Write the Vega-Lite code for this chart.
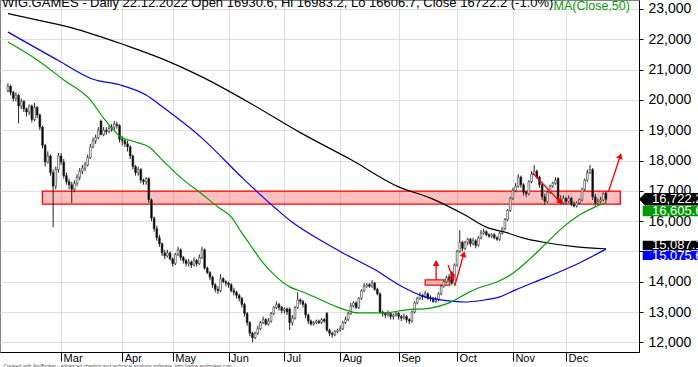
{
"$schema":"https://vega.github.io/schema/vega-lite/v6.json",
"width":639,"height":352,
"autosize":{"type":"none"},
"padding":{"left":0,"top":0,"right":59,"bottom":15},
"background":"white",
"config":{"view":{"stroke":"#808080","strokeWidth":1},"font":"Liberation Sans",
 "axisY":{"labelOverlap":false,"labelFlush":false,"labelFontSize":14,"labelColor":"#000000","labelPadding":5,"tickSize":4,"tickColor":"#000000","domainColor":"#000000","grid":true,"gridColor":"#dedede","labelAlign":"left","labelBaseline":"middle","format":",d"},
 "axisX":{"labelOverlap":false,"labelFlush":false,"labelAlign":"left","labelBaseline":"alphabetic","labelPadding":0,"labelOffset":2,"tickSize":9,"labelFontSize":11,"labelColor":"#000000","grid":true,"gridColor":"#dedede","domainColor":"#000000","tickColor":"#000000"}},
"title":{"text":"WIG.GAMES - Daily 22.12.2022 Open 16930.6, Hi 16983.2, Lo 16606.7, Close 16722.2 (-1.0%)","anchor":"start","frame":"group","fontSize":13,"fontWeight":"normal","color":"#000000","baseline":"top","offset":-11,"dx":2},
"datasets":{
"px":[
{"d":"2022-02-01","o":20300,"h":20550,"l":20250,"c":20450,"m50":21910,"m100":22240,"m200":22850},
{"d":"2022-02-02","o":20450,"h":20500,"l":20150,"c":20250},
{"d":"2022-02-03","o":20250,"h":20300,"l":19950,"c":20050},
{"d":"2022-02-04","o":20050,"h":20250,"l":19950,"c":20150},
{"d":"2022-02-07","o":20150,"h":20200,"l":19230,"c":19800},
{"d":"2022-02-08","o":19800,"h":20050,"l":19700,"c":19950},
{"d":"2022-02-09","o":19950,"h":20000,"l":19600,"c":19700},
{"d":"2022-02-10","o":19700,"h":19750,"l":19450,"c":19600},
{"d":"2022-02-11","o":19600,"h":19850,"l":19500,"c":19800},
{"d":"2022-02-14","o":19800,"h":19850,"l":19250,"c":19350},
{"d":"2022-02-15","o":19350,"h":19900,"l":19300,"c":19750},
{"d":"2022-02-16","o":19750,"h":19800,"l":19400,"c":19500,"m50":21320},
{"d":"2022-02-17","o":19500,"h":19550,"l":19000,"c":19100},
{"d":"2022-02-18","o":19100,"h":19150,"l":18400,"c":18500,"m200":22600},
{"d":"2022-02-21","o":18500,"h":18550,"l":17800,"c":17950},
{"d":"2022-02-22","o":17950,"h":18300,"l":17900,"c":18150},
{"d":"2022-02-23","o":18150,"h":18200,"l":17500,"c":17600},
{"d":"2022-02-24","o":17600,"h":17700,"l":15800,"c":17150},
{"d":"2022-02-25","o":17150,"h":17800,"l":17050,"c":17700},
{"d":"2022-02-28","o":17700,"h":18250,"l":17600,"c":18150,"m100":21300},
{"d":"2022-03-01","o":18150,"h":18250,"l":17850,"c":17950},
{"d":"2022-03-02","o":17950,"h":18050,"l":17400,"c":17500,"m50":20660},
{"d":"2022-03-03","o":17500,"h":17600,"l":17200,"c":17300},
{"d":"2022-03-04","o":17300,"h":17400,"l":17050,"c":17200},
{"d":"2022-03-07","o":17200,"h":17300,"l":16600,"c":17050},
{"d":"2022-03-08","o":17050,"h":17350,"l":16950,"c":17250},
{"d":"2022-03-09","o":17250,"h":17550,"l":17150,"c":17450,"m200":22330},
{"d":"2022-03-10","o":17450,"h":17750,"l":17350,"c":17650},
{"d":"2022-03-11","o":17650,"h":17850,"l":17550,"c":17750},
{"d":"2022-03-14","o":17750,"h":17950,"l":17650,"c":17850},
{"d":"2022-03-15","o":17850,"h":18200,"l":17800,"c":18100},
{"d":"2022-03-16","o":18100,"h":18550,"l":18050,"c":18450,"m50":20000},
{"d":"2022-03-17","o":18450,"h":18750,"l":18400,"c":18650,"m100":20680},
{"d":"2022-03-18","o":18650,"h":18850,"l":18550,"c":18750},
{"d":"2022-03-21","o":18750,"h":19100,"l":18700,"c":19000},
{"d":"2022-03-22","o":19300,"h":19350,"l":18850,"c":18850},
{"d":"2022-03-23","o":18850,"h":19100,"l":18800,"c":19000,"m50":19400},
{"d":"2022-03-24","o":19000,"h":19100,"l":18850,"c":18950},
{"d":"2022-03-25","o":18950,"h":19150,"l":18900,"c":19050},
{"d":"2022-03-28","o":19050,"h":19200,"l":18950,"c":19100},
{"d":"2022-03-29","o":19100,"h":19300,"l":19000,"c":19200},
{"d":"2022-03-30","o":19200,"h":19280,"l":19050,"c":19150},
{"d":"2022-03-31","o":19150,"h":19200,"l":18600,"c":18700,"m50":18810,"m100":20500},
{"d":"2022-04-01","o":18700,"h":18800,"l":18500,"c":18650},
{"d":"2022-04-04","o":18650,"h":18700,"l":18450,"c":18550,"m200":21810},
{"d":"2022-04-05","o":18550,"h":18650,"l":18300,"c":18450},
{"d":"2022-04-06","o":18450,"h":18500,"l":18050,"c":18150},
{"d":"2022-04-07","o":18150,"h":18200,"l":17700,"c":17800},
{"d":"2022-04-08","o":17800,"h":17850,"l":17500,"c":17600,"m50":18610},
{"d":"2022-04-11","o":17600,"h":17800,"l":17500,"c":17700},
{"d":"2022-04-12","o":17700,"h":17750,"l":17250,"c":17350},
{"d":"2022-04-13","o":17350,"h":17400,"l":17200,"c":17300},
{"d":"2022-04-14","o":17300,"h":17450,"l":17200,"c":17400,"m100":20160},
{"d":"2022-04-19","o":17400,"h":17450,"l":16600,"c":16700,"m50":18450},
{"d":"2022-04-20","o":16700,"h":16750,"l":16000,"c":16100},
{"d":"2022-04-21","o":16100,"h":16150,"l":15650,"c":15750},
{"d":"2022-04-22","o":15750,"h":15850,"l":15350,"c":15450},
{"d":"2022-04-25","o":15450,"h":15550,"l":15150,"c":15250},
{"d":"2022-04-26","o":15250,"h":15300,"l":14850,"c":14950,"m50":18020,"m100":19780},
{"d":"2022-04-27","o":14950,"h":15050,"l":14750,"c":14850,"m200":21320},
{"d":"2022-04-28","o":14850,"h":15050,"l":14800,"c":14950},
{"d":"2022-04-29","o":14950,"h":15000,"l":14700,"c":14750},
{"d":"2022-05-02","o":14750,"h":14800,"l":14500,"c":14600},
{"d":"2022-05-04","o":14600,"h":14950,"l":14550,"c":14900},
{"d":"2022-05-05","o":14900,"h":15150,"l":14850,"c":15050},
{"d":"2022-05-06","o":15050,"h":15100,"l":14700,"c":14800},
{"d":"2022-05-09","o":14800,"h":14850,"l":14600,"c":14700,"m50":17360},
{"d":"2022-05-10","o":14700,"h":14750,"l":14500,"c":14600},
{"d":"2022-05-11","o":14600,"h":14750,"l":14500,"c":14650},
{"d":"2022-05-12","o":14650,"h":14700,"l":14450,"c":14550},
{"d":"2022-05-13","o":14550,"h":14800,"l":14500,"c":14700},
{"d":"2022-05-16","o":14700,"h":14750,"l":14500,"c":14600},
{"d":"2022-05-17","o":14600,"h":14900,"l":14550,"c":14800,"m50":16960},
{"d":"2022-05-18","o":14800,"h":15150,"l":14750,"c":15050,"m100":18740,"m200":20760},
{"d":"2022-05-19","o":15050,"h":15100,"l":14400,"c":14450},
{"d":"2022-05-20","o":14450,"h":14500,"l":14250,"c":14300},
{"d":"2022-05-23","o":14300,"h":14350,"l":14050,"c":14150},
{"d":"2022-05-24","o":14150,"h":14200,"l":13800,"c":13900},
{"d":"2022-05-25","o":13900,"h":13950,"l":13650,"c":13750},
{"d":"2022-05-26","o":13750,"h":13850,"l":13600,"c":13700,"m50":16470},
{"d":"2022-05-27","o":13700,"h":14250,"l":13650,"c":14100},
{"d":"2022-05-30","o":14100,"h":14150,"l":13950,"c":14000},
{"d":"2022-05-31","o":14000,"h":14050,"l":13850,"c":13950},
{"d":"2022-06-01","o":13950,"h":14000,"l":13800,"c":13900},
{"d":"2022-06-02","o":13900,"h":13950,"l":13650,"c":13700,"m50":16140},
{"d":"2022-06-03","o":13700,"h":13800,"l":13550,"c":13650},
{"d":"2022-06-06","o":13650,"h":13700,"l":13450,"c":13550},
{"d":"2022-06-07","o":13550,"h":13600,"l":13350,"c":13450},
{"d":"2022-06-08","o":13450,"h":13500,"l":13150,"c":13250,"m50":15610},
{"d":"2022-06-09","o":13250,"h":13300,"l":12850,"c":12950,"m100":17360},
{"d":"2022-06-10","o":12950,"h":13000,"l":12550,"c":12650},
{"d":"2022-06-13","o":12650,"h":12700,"l":12200,"c":12300},
{"d":"2022-06-14","o":12300,"h":12350,"l":12000,"c":12150,"m50":15110,"m200":19850},
{"d":"2022-06-15","o":12150,"h":12350,"l":12100,"c":12300},
{"d":"2022-06-17","o":12300,"h":12550,"l":12250,"c":12450,"m100":16950},
{"d":"2022-06-20","o":12450,"h":12700,"l":12400,"c":12650},
{"d":"2022-06-21","o":12650,"h":12850,"l":12600,"c":12750,"m50":14620},
{"d":"2022-06-22","o":12750,"h":12800,"l":12550,"c":12600},
{"d":"2022-06-23","o":12600,"h":12800,"l":12550,"c":12700},
{"d":"2022-06-24","o":12700,"h":13000,"l":12650,"c":12950},
{"d":"2022-06-27","o":12950,"h":13200,"l":12900,"c":13150},
{"d":"2022-06-28","o":13150,"h":13350,"l":13100,"c":13250,"m50":14160,"m100":16400},
{"d":"2022-06-29","o":13250,"h":13300,"l":13050,"c":13150},
{"d":"2022-06-30","o":13150,"h":13200,"l":12950,"c":13050},
{"d":"2022-07-01","o":13050,"h":13150,"l":12950,"c":13100},
{"d":"2022-07-04","o":13100,"h":13150,"l":12900,"c":13000},
{"d":"2022-07-05","o":13100,"h":13150,"l":12400,"c":12650,"m50":13830},
{"d":"2022-07-06","o":12650,"h":12900,"l":12550,"c":12800,"m100":15960},
{"d":"2022-07-07","o":12800,"h":13200,"l":12750,"c":13150},
{"d":"2022-07-08","o":13150,"h":13650,"l":13100,"c":13400},
{"d":"2022-07-11","o":13400,"h":13450,"l":13250,"c":13350,"m200":18920},
{"d":"2022-07-12","o":13350,"h":13400,"l":13150,"c":13250,"m50":13660},
{"d":"2022-07-13","o":13250,"h":13300,"l":12800,"c":12900},
{"d":"2022-07-14","o":12900,"h":12950,"l":12600,"c":12700},
{"d":"2022-07-15","o":12700,"h":12750,"l":12550,"c":12600},
{"d":"2022-07-18","o":12600,"h":12700,"l":12550,"c":12650},
{"d":"2022-07-19","o":12650,"h":12750,"l":12600,"c":12700},
{"d":"2022-07-20","o":12700,"h":12750,"l":12600,"c":12650,"m50":13430,"m100":15400},
{"d":"2022-07-21","o":12650,"h":12800,"l":12600,"c":12750},
{"d":"2022-07-22","o":12750,"h":12800,"l":12650,"c":12700},
{"d":"2022-07-25","o":12950,"h":13000,"l":12350,"c":12400},
{"d":"2022-07-26","o":12400,"h":12450,"l":12200,"c":12300},
{"d":"2022-07-27","o":12300,"h":12350,"l":12150,"c":12250},
{"d":"2022-07-28","o":12250,"h":12400,"l":12200,"c":12350},
{"d":"2022-07-29","o":12350,"h":12450,"l":12300,"c":12400},
{"d":"2022-08-01","o":12400,"h":12550,"l":12350,"c":12450,"m50":13130},
{"d":"2022-08-02","o":12450,"h":12700,"l":12400,"c":12650,"m100":14950},
{"d":"2022-08-03","o":12650,"h":12850,"l":12600,"c":12750},
{"d":"2022-08-04","o":12750,"h":13000,"l":12700,"c":12950},
{"d":"2022-08-05","o":12950,"h":13300,"l":12900,"c":13200,"m200":18030},
{"d":"2022-08-08","o":13200,"h":13350,"l":13150,"c":13300},
{"d":"2022-08-09","o":13300,"h":13350,"l":13100,"c":13150},
{"d":"2022-08-10","o":13150,"h":13500,"l":13100,"c":13450,"m50":12970},
{"d":"2022-08-11","o":13450,"h":13750,"l":13400,"c":13700},
{"d":"2022-08-12","o":13700,"h":13950,"l":13650,"c":13850},
{"d":"2022-08-16","o":13850,"h":13950,"l":13800,"c":13900},
{"d":"2022-08-17","o":13900,"h":13950,"l":13800,"c":13850},
{"d":"2022-08-18","o":13850,"h":14050,"l":13800,"c":13950},
{"d":"2022-08-19","o":13950,"h":14000,"l":13700,"c":13750,"m100":14400},
{"d":"2022-08-22","o":13750,"h":13800,"l":13550,"c":13600},
{"d":"2022-08-23","o":13600,"h":13650,"l":12950,"c":13000},
{"d":"2022-08-24","o":13000,"h":13050,"l":12850,"c":12950,"m50":12970},
{"d":"2022-08-25","o":12950,"h":13000,"l":12800,"c":12900},
{"d":"2022-08-26","o":12900,"h":13050,"l":12850,"c":12950},
{"d":"2022-08-29","o":12950,"h":13000,"l":12750,"c":12850},
{"d":"2022-08-30","o":12850,"h":12950,"l":12750,"c":12900},
{"d":"2022-08-31","o":12900,"h":13000,"l":12850,"c":12950},
{"d":"2022-09-01","o":12950,"h":13000,"l":12750,"c":12850,"m200":17130},
{"d":"2022-09-02","o":12850,"h":12900,"l":12700,"c":12800,"m100":13850},
{"d":"2022-09-05","o":12800,"h":12950,"l":12750,"c":12850},
{"d":"2022-09-06","o":12850,"h":12900,"l":12650,"c":12750,"m50":13070},
{"d":"2022-09-07","o":12750,"h":12800,"l":12600,"c":12700},
{"d":"2022-09-08","o":12700,"h":13050,"l":12650,"c":13000},
{"d":"2022-09-09","o":13000,"h":13350,"l":12950,"c":13300},
{"d":"2022-09-12","o":13300,"h":13500,"l":13250,"c":13450},
{"d":"2022-09-13","o":13450,"h":13650,"l":13400,"c":13550},
{"d":"2022-09-14","o":13550,"h":13600,"l":13400,"c":13500},
{"d":"2022-09-15","o":13500,"h":13700,"l":13450,"c":13600,"m100":13500},
{"d":"2022-09-16","o":13600,"h":13650,"l":13400,"c":13450},
{"d":"2022-09-19","o":13450,"h":13550,"l":13350,"c":13450,"m50":13130,"m200":16760},
{"d":"2022-09-20","o":13450,"h":13500,"l":13300,"c":13350},
{"d":"2022-09-21","o":13350,"h":13500,"l":13300,"c":13400},
{"d":"2022-09-22","o":13400,"h":13650,"l":13350,"c":13600},
{"d":"2022-09-23","o":13600,"h":13900,"l":13550,"c":13850,"m100":13400},
{"d":"2022-09-26","o":13850,"h":14050,"l":13800,"c":14000},
{"d":"2022-09-27","o":14000,"h":14200,"l":13950,"c":14150},
{"d":"2022-09-28","o":14150,"h":14250,"l":14000,"c":14100,"m50":13300},
{"d":"2022-09-29","o":14300,"h":14350,"l":13900,"c":13950},
{"d":"2022-09-30","o":13950,"h":14600,"l":13900,"c":14550},
{"d":"2022-10-03","o":14550,"h":15050,"l":14500,"c":15000},
{"d":"2022-10-04","o":15000,"h":15700,"l":14950,"c":15300},
{"d":"2022-10-05","o":15300,"h":15350,"l":15000,"c":15100},
{"d":"2022-10-06","o":15100,"h":15350,"l":15050,"c":15300,"m100":13330,"m200":16200},
{"d":"2022-10-07","o":15300,"h":15450,"l":15200,"c":15400,"m50":13630},
{"d":"2022-10-10","o":15400,"h":15450,"l":15150,"c":15250},
{"d":"2022-10-11","o":15250,"h":15450,"l":15200,"c":15350},
{"d":"2022-10-12","o":15350,"h":15400,"l":15100,"c":15200},
{"d":"2022-10-13","o":15200,"h":15500,"l":15150,"c":15450,"m50":13790},
{"d":"2022-10-14","o":15450,"h":15700,"l":15400,"c":15600,"m100":13380},
{"d":"2022-10-17","o":15600,"h":15750,"l":15550,"c":15650},
{"d":"2022-10-18","o":15650,"h":15700,"l":15500,"c":15550,"m200":15800},
{"d":"2022-10-19","o":15550,"h":15600,"l":15450,"c":15500},
{"d":"2022-10-20","o":15500,"h":15600,"l":15450,"c":15550},
{"d":"2022-10-21","o":15550,"h":15600,"l":15400,"c":15450},
{"d":"2022-10-24","o":15450,"h":15500,"l":15350,"c":15400,"m50":13990},
{"d":"2022-10-25","o":15400,"h":15650,"l":15350,"c":15600,"m100":13500},
{"d":"2022-10-26","o":15600,"h":15800,"l":15550,"c":15750},
{"d":"2022-10-27","o":15750,"h":16100,"l":15700,"c":16050},
{"d":"2022-10-28","o":16050,"h":16400,"l":16000,"c":16350,"m200":15610},
{"d":"2022-10-31","o":16350,"h":16800,"l":16300,"c":16750,"m50":14220},
{"d":"2022-11-02","o":16750,"h":17100,"l":16700,"c":17000},
{"d":"2022-11-03","o":17000,"h":17250,"l":16950,"c":17150,"m100":13730},
{"d":"2022-11-04","o":17150,"h":17550,"l":17100,"c":17450},
{"d":"2022-11-07","o":17450,"h":17500,"l":17100,"c":17200},
{"d":"2022-11-08","o":17200,"h":17250,"l":16850,"c":16950,"m200":15440},
{"d":"2022-11-09","o":16950,"h":17000,"l":16800,"c":16900},
{"d":"2022-11-10","o":16900,"h":17350,"l":16850,"c":17300,"m50":14720},
{"d":"2022-11-14","o":17300,"h":17650,"l":17250,"c":17550},
{"d":"2022-11-15","o":17550,"h":17850,"l":17500,"c":17650},
{"d":"2022-11-16","o":17650,"h":17700,"l":17400,"c":17450},
{"d":"2022-11-17","o":17450,"h":17500,"l":17100,"c":17200},
{"d":"2022-11-18","o":17200,"h":17250,"l":16700,"c":16800,"m200":15310},
{"d":"2022-11-21","o":16800,"h":16900,"l":16550,"c":16650},
{"d":"2022-11-22","o":16650,"h":17000,"l":16600,"c":16950,"m50":15310,"m100":14160},
{"d":"2022-11-23","o":16950,"h":17200,"l":16900,"c":17150},
{"d":"2022-11-24","o":17150,"h":17300,"l":17100,"c":17250},
{"d":"2022-11-25","o":17250,"h":17450,"l":17200,"c":17350},
{"d":"2022-11-28","o":17400,"h":17450,"l":16650,"c":16700},
{"d":"2022-11-29","o":16700,"h":16850,"l":16550,"c":16600},
{"d":"2022-11-30","o":16600,"h":16850,"l":16550,"c":16750,"m50":15810},
{"d":"2022-12-01","o":16750,"h":16800,"l":16550,"c":16650},
{"d":"2022-12-02","o":16650,"h":16850,"l":16600,"c":16750},
{"d":"2022-12-05","o":16750,"h":16800,"l":16500,"c":16550},
{"d":"2022-12-06","o":16550,"h":16650,"l":16450,"c":16500},
{"d":"2022-12-07","o":16500,"h":16650,"l":16450,"c":16600,"m200":15150},
{"d":"2022-12-08","o":16600,"h":16750,"l":16550,"c":16700,"m50":16200,"m100":14620},
{"d":"2022-12-09","o":16700,"h":17100,"l":16650,"c":17050},
{"d":"2022-12-12","o":17050,"h":17400,"l":17000,"c":17350},
{"d":"2022-12-13","o":17350,"h":17700,"l":17300,"c":17600},
{"d":"2022-12-14","o":17600,"h":17850,"l":17550,"c":17700},
{"d":"2022-12-15","o":17700,"h":17750,"l":16700,"c":16800},
{"d":"2022-12-16","o":16800,"h":16900,"l":16500,"c":16600,"m50":16470},
{"d":"2022-12-19","o":16600,"h":16750,"l":16550,"c":16650},
{"d":"2022-12-20","o":16650,"h":16800,"l":16600,"c":16700},
{"d":"2022-12-21","o":16700,"h":16950,"l":16650,"c":16900},
{"d":"2022-12-22","o":16930.6,"h":16983.2,"l":16606.7,"c":16722.2,"m50":16605.6,"m100":15075.6,"m200":15087.1}
],
"zones":[{"a":13.96,"b":231.4,"lo":16560,"hi":16990},{"a":158,"b":167.3,"lo":13890,"hi":14060}],
"arrows":[
{"a":162.1,"b":162.1,"p1":14056,"p2":14617,"ang":0},
{"a":166.6,"b":168.4,"p1":14551,"p2":14122,"ang":159},
{"a":169.1,"b":172.5,"p1":13858,"p2":14914,"ang":16},
{"a":198.4,"b":208.8,"p1":17587,"p2":16630,"ang":136},
{"a":226.9,"b":231.4,"p1":16960,"p2":18150,"ang":18}
]
},
"layer":[
{"data":{"name":"zones"},
 "mark":{"type":"rect","fill":"#ff0000","fillOpacity":0.25,"stroke":"#ff0000","strokeWidth":1.3},
 "encoding":{
  "x":{"field":"a","type":"quantitative","scale":{"domain":[-0.11,236.56],"nice":false,"zero":false},
      "axis":{"values":[21,44,63,84,105,126,148,170,191,211],"tickCount":10,
        "labelExpr":"['Mar','Apr','May','Jun','Jul','Aug','Sep','Oct','Nov','Dec'][indexof([21,44,63,84,105,126,148,170,191,211], datum.value)]",
        "title":"Created with AmiBroker - advanced charting and technical analysis software. http://www.amibroker.com",
        "titleFontSize":5,"titleFontWeight":"normal","titleColor":"#555555","titleAlign":"left","titleAnchor":"start","titleBaseline":"middle","titleX":3,"titleY":13}},
  "x2":{"field":"b"},
  "y":{"field":"lo","type":"quantitative","scale":{"domain":[11680,23297],"nice":false,"zero":false},
      "axis":{"orient":"right","values":[12000,13000,14000,15000,16000,17000,18000,19000,20000,21000,22000,23000],"tickCount":12,"labelOverlap":false,
        "title":"MA(Close,50)","titleAngle":0,"titleColor":"#00a000","titleFontSize":12.5,"titleFontWeight":"normal","titleAlign":"left","titleBaseline":"top","titleX":-86,"titleY":-1}},
  "y2":{"field":"hi"}}},
{"data":{"name":"px"},
 "transform":[{"window":[{"op":"row_number","as":"i"}],"sort":[{"field":"d","order":"ascending"}]}],
 "layer":[
  {"mark":{"type":"rule","color":"#222222","strokeWidth":1},
   "encoding":{
    "x":{"field":"i","type":"quantitative"},
    "y":{"field":"l","type":"quantitative"},
    "y2":{"field":"h"}}},
  {"mark":{"type":"bar","size":1.8,"stroke":"#333333","strokeWidth":0.6},
   "encoding":{
    "x":{"field":"i","type":"quantitative"},
    "y":{"field":"o","type":"quantitative"},
    "y2":{"field":"c"},
    "fill":{"condition":{"test":"datum.c >= datum.o","value":"#ffffff"},"value":"#000000"}}},
  {"transform":[{"filter":"isValid(datum.m200)"}],
   "mark":{"type":"line","color":"#000000","strokeWidth":1.2,"interpolate":"monotone"},
   "encoding":{"x":{"field":"i","type":"quantitative"},"y":{"field":"m200","type":"quantitative"}}},
  {"transform":[{"filter":"isValid(datum.m100)"}],
   "mark":{"type":"line","color":"#0000ff","strokeWidth":1.2,"interpolate":"monotone"},
   "encoding":{"x":{"field":"i","type":"quantitative"},"y":{"field":"m100","type":"quantitative"}}},
  {"transform":[{"filter":"isValid(datum.m50)"}],
   "mark":{"type":"line","color":"#00a000","strokeWidth":1.2,"interpolate":"monotone"},
   "encoding":{"x":{"field":"i","type":"quantitative"},"y":{"field":"m50","type":"quantitative"}}}
 ]},
{"data":{"name":"arrows"},
 "layer":[
  {"mark":{"type":"rule","color":"#ff0000","strokeWidth":1.3},
   "encoding":{"x":{"field":"a","type":"quantitative"},"x2":{"field":"b"},"y":{"field":"p1","type":"quantitative"},"y2":{"field":"p2"}}},
  {"mark":{"type":"point","shape":"triangle-up","filled":true,"color":"#ff0000","opacity":1,"size":45},
   "encoding":{"x":{"field":"b","type":"quantitative"},"y":{"field":"p2","type":"quantitative"},"angle":{"field":"ang","type":"quantitative","scale":null}}}
 ]},
{"data":{"name":"px"},
 "transform":[{"filter":"datum.d == '2022-12-22'"}],
 "layer":[
  {"mark":{"type":"point","shape":"M0,0L0.6,-0.62L6,-0.62L6,0.62L0.6,0.62Z","size":400,"filled":true,"color":"#000000","opacity":1,"strokeWidth":0},
   "encoding":{"x":{"value":"width"},"y":{"field":"c","type":"quantitative"}}},
  {"mark":{"type":"point","shape":"M0.37,0.3L6,0.3L6,1.35L0.37,1.35Z","size":400,"filled":true,"color":"#009900","opacity":1,"strokeWidth":0},
   "encoding":{"x":{"value":"width"},"y":{"field":"m50","type":"quantitative"}}},
  {"mark":{"type":"point","shape":"M0.37,-0.8L6,-0.8L6,0.13L0.37,0.13Z","size":400,"filled":true,"color":"#000000","opacity":1,"strokeWidth":0},
   "encoding":{"x":{"value":"width"},"y":{"field":"m200","type":"quantitative"}}},
  {"mark":{"type":"point","shape":"M0.37,0.17L6,0.17L6,1.1L0.37,1.1Z","size":400,"filled":true,"color":"#0000ff","opacity":1,"strokeWidth":0},
   "encoding":{"x":{"value":"width"},"y":{"field":"m100","type":"quantitative"}}},
  {"mark":{"type":"text","align":"left","baseline":"middle","dx":13,"dy":0,"fontSize":13,"color":"#ffffff"},
   "encoding":{"x":{"value":"width"},"y":{"field":"c","type":"quantitative"},"text":{"field":"c","type":"quantitative","format":",.1f"}}},
  {"mark":{"type":"text","align":"left","baseline":"middle","dx":13,"dy":8.2,"fontSize":13,"color":"#ffffff"},
   "encoding":{"x":{"value":"width"},"y":{"field":"m50","type":"quantitative"},"text":{"field":"m50","type":"quantitative","format":",.1f"}}},
  {"mark":{"type":"text","align":"left","baseline":"middle","dx":13,"dy":-3.3,"fontSize":13,"color":"#ffffff"},
   "encoding":{"x":{"value":"width"},"y":{"field":"m200","type":"quantitative"},"text":{"field":"m200","type":"quantitative","format":",.1f"}}},
  {"mark":{"type":"text","align":"left","baseline":"middle","dx":13,"dy":6.4,"fontSize":13,"color":"#ffffff"},
   "encoding":{"x":{"value":"width"},"y":{"field":"m100","type":"quantitative"},"text":{"field":"m100","type":"quantitative","format":",.1f"}}}
 ]}
]
}
